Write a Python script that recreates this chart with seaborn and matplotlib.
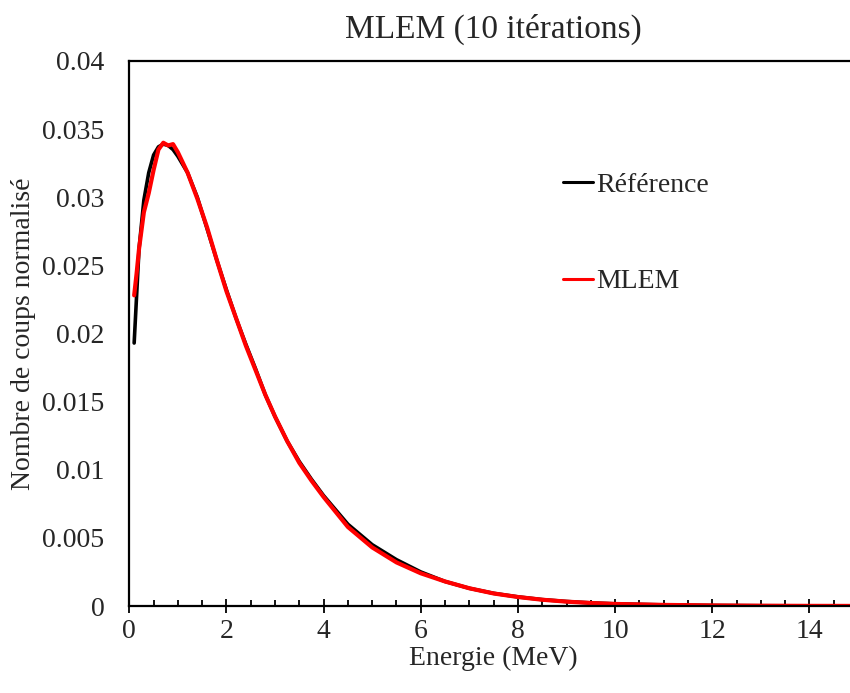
import numpy as np
import pandas as pd
import matplotlib
matplotlib.use('Agg')
import matplotlib.pyplot as plt
from matplotlib.ticker import MultipleLocator
import seaborn as sns

# Spectre de reference
energie_ref = [0.1, 0.2, 0.3, 0.4, 0.5, 0.6, 0.7, 0.8, 0.9, 1.0, 1.2, 1.4, 1.6, 1.8,
               2.0, 2.2, 2.4, 2.6, 2.8, 3.0, 3.25, 3.5, 3.75, 4.0, 4.5, 5.0, 5.5, 6.0,
               6.5, 7.0, 7.5, 8.0, 8.5, 9.0, 9.5, 10.0, 11.0, 12.0, 13.0, 14.0, 15.0]
valeurs_ref = [0.0193, 0.0262, 0.0298, 0.0318, 0.0331, 0.0337, 0.0339, 0.0338, 0.0335,
               0.0330, 0.0318, 0.0300, 0.0277, 0.0254, 0.0232, 0.0211, 0.0192, 0.0174,
               0.0155, 0.0139, 0.0121, 0.0106, 0.0093, 0.0081, 0.0060, 0.0045, 0.0034,
               0.0025, 0.0018, 0.0013, 0.00093, 0.00067, 0.00047, 0.00033, 0.00023,
               0.00016, 0.00008, 0.00004, 0.00002, 0.00001, 0.000005]

# Spectre reconstruit MLEM (10 iterations)
energie_mlem = [0.1, 0.15, 0.2, 0.3, 0.4, 0.5, 0.6, 0.7, 0.8, 0.9, 1.0, 1.2, 1.4, 1.6,
                1.8, 2.0, 2.2, 2.4, 2.6, 2.8, 3.0, 3.25, 3.5, 3.75, 4.0, 4.5, 5.0, 5.5,
                6.0, 6.5, 7.0, 7.5, 8.0, 8.5, 9.0, 9.5, 10.0, 11.0, 12.0, 13.0, 14.0, 15.0]
valeurs_mlem = [0.0228, 0.0244, 0.0262, 0.0289, 0.0303, 0.0320, 0.0335, 0.0340, 0.0338,
                0.0339, 0.0333, 0.0318, 0.0299, 0.0278, 0.0254, 0.0231, 0.0211, 0.0191,
                0.0173, 0.0155, 0.0139, 0.0121, 0.0105, 0.0092, 0.0080, 0.0058, 0.0043,
                0.0032, 0.0024, 0.0018, 0.0013, 0.00092, 0.00066, 0.00046, 0.00032,
                0.00022, 0.00015, 0.00008, 0.00004, 0.00002, 0.00001, 0.000005]

df = pd.concat([
    pd.DataFrame({'Energie': energie_ref, 'Valeur': valeurs_ref, 'Serie': 'Référence'}),
    pd.DataFrame({'Energie': energie_mlem, 'Valeur': valeurs_mlem, 'Serie': 'MLEM'}),
])

sns.set_theme(style="white")
plt.rcParams['font.family'] = ['Liberation Serif', 'DejaVu Serif']

fig = plt.figure(figsize=(8.5, 6.93), dpi=100)
ax = fig.add_axes([129.3 / 850, 87 / 693, (858 - 129.3) / 850, 545 / 693])

sns.lineplot(data=df, x='Energie', y='Valeur', hue='Serie',
             palette={'Référence': 'black', 'MLEM': '#ff0000'},
             linewidth=2.6, ax=ax, sort=True, estimator=None)
for line in ax.lines:
    if line.get_color() in ('#ff0000', 'red'):
        line.set_linewidth(3.0)

ax.set_xlim(0, 15)
ax.set_ylim(0, 0.04)
ax.xaxis.set_major_locator(MultipleLocator(2))
ax.xaxis.set_minor_locator(MultipleLocator(0.5))
ax.set_yticks(np.arange(0, 0.0401, 0.005))
ax.set_yticklabels(['0', '0.005', '0.01', '0.015', '0.02', '0.025', '0.03', '0.035', '0.04'])

ax.tick_params(axis='x', which='major', direction='inout', length=10, width=1.3,
               color='black', labelsize=20, pad=4, bottom=True)
ax.tick_params(axis='x', which='minor', direction='in', length=4.5, width=1.3,
               color='black', bottom=True)
ax.tick_params(axis='y', which='both', length=0, labelsize=20, pad=18)

for side in ['left', 'top', 'bottom']:
    ax.spines[side].set_linewidth(1.6)
    ax.spines[side].set_color('black')
ax.spines['right'].set_visible(False)

ax.set_title('MLEM (10 itérations)', fontsize=24, pad=17)
ax.set_xlabel('Energie (MeV)', fontsize=20, labelpad=2)
ax.set_ylabel('Nombre de coups normalisé', fontsize=20, labelpad=4)

handles, labels = ax.get_legend_handles_labels()
leg = ax.legend(handles, labels, loc='upper left', bbox_to_anchor=(0.595, 0.795),
                frameon=False, fontsize=20, handlelength=1.1, handletextpad=0.1,
                labelspacing=2.55, borderpad=0, borderaxespad=0)
for h in leg.get_lines():
    h.set_linewidth(2.2)

fig.savefig('out.png', dpi=100)
